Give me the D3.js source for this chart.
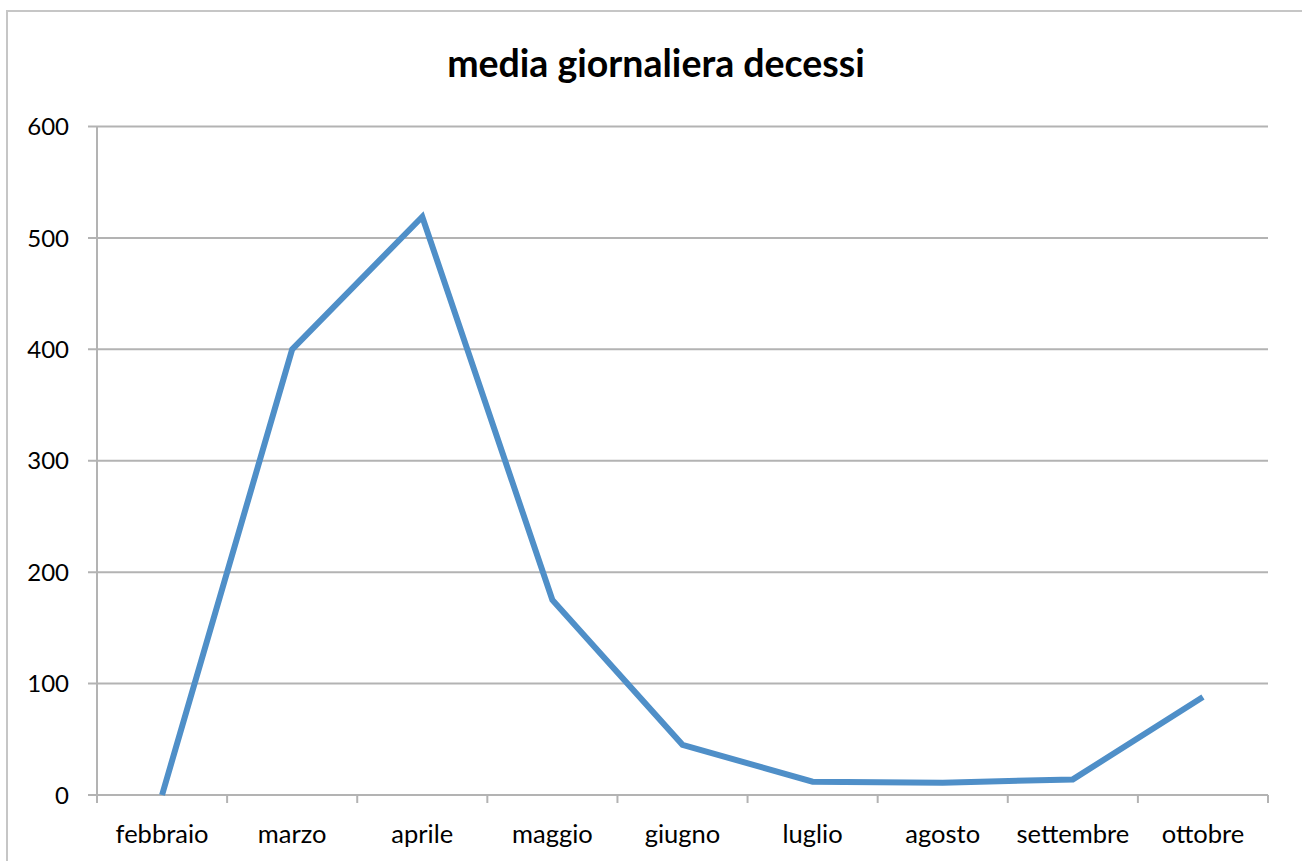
<!DOCTYPE html>
<html>
<head>
<meta charset="utf-8">
<script src="https://cdn.jsdelivr.net/npm/d3@7"></script>
<style>
  html, body { margin: 0; padding: 0; background: #fff; }
  svg { display: block; }
  text { font-family: Lato, "Open Sans", sans-serif; fill: #000; }
</style>
</head>
<body>
<svg id="chart" width="1302" height="861"></svg>
<script>
const categories = ["febbraio", "marzo", "aprile", "maggio", "giugno", "luglio", "agosto", "settembre", "ottobre"];
const values = [0, 400, 519, 175, 45, 12, 11, 14, 88];
const yTicks = [0, 100, 200, 300, 400, 500, 600];
const title = "media giornaliera decessi";

(function () {
const svg = d3.select("#chart");
const W = 1302, H = 861;
const mLeft = 97, mRight = 1268, mTop = 126.5, mBottom = 795;
const gridColor = "#b3b3b3";
const lineColor = "#4f8fc8";

// outer frame
svg.append("rect")
  .attr("x", 7).attr("y", 11)
  .attr("width", W + 20).attr("height", H + 20)
  .attr("fill", "#fff").attr("stroke", "#c6c6c6").attr("stroke-width", 2);

const x = d3.scaleBand().domain(categories).range([mLeft, mRight]).padding(0);
const y = d3.scaleLinear().domain([0, 600]).range([mBottom, mTop]);

// gridlines (incl. left tick stubs)
svg.append("g").selectAll("line").data(yTicks).join("line")
  .attr("x1", mLeft - 9).attr("x2", mRight)
  .attr("y1", d => y(d)).attr("y2", d => y(d))
  .attr("stroke", gridColor).attr("stroke-width", 2);

// y axis line
svg.append("line")
  .attr("x1", mLeft).attr("x2", mLeft)
  .attr("y1", mTop).attr("y2", mBottom)
  .attr("stroke", gridColor).attr("stroke-width", 2);

// x ticks at band edges
const edges = categories.map(c => x(c)).concat([mRight]);
svg.append("g").selectAll("line").data(edges).join("line")
  .attr("x1", d => d).attr("x2", d => d)
  .attr("y1", mBottom).attr("y2", mBottom + 8)
  .attr("stroke", gridColor).attr("stroke-width", 2);

// y labels
svg.append("g").selectAll("text").data(yTicks).join("text")
  .attr("x", 69).attr("y", d => y(d))
  .attr("dy", "0.36em")
  .attr("text-anchor", "end")
  .attr("font-size", 24)
  .text(d => d);

// x labels via axis
const xAxis = svg.append("g")
  .attr("transform", `translate(0,${mBottom})`)
  .call(d3.axisBottom(x).tickSize(0).tickPadding(30));
xAxis.select(".domain").remove();
xAxis.selectAll("text")
  .attr("font-size", 25.5)
  .style("font-family", "Lato, 'Open Sans', sans-serif")
  .attr("fill", "#000");

// line
const line = d3.line()
  .x((d, i) => x(categories[i]) + x.bandwidth() / 2)
  .y(d => y(d));
svg.append("path")
  .datum(values)
  .attr("d", line)
  .attr("fill", "none")
  .attr("stroke", lineColor)
  .attr("stroke-width", 6)
  .attr("stroke-linejoin", "miter")
  .attr("stroke-linecap", "butt");

// title
svg.append("text")
  .attr("x", 656).attr("y", 77)
  .attr("text-anchor", "middle")
  .attr("font-size", 37.5)
  .attr("font-weight", "bold")
  .text(title);
})();
</script>
</body>
</html>
